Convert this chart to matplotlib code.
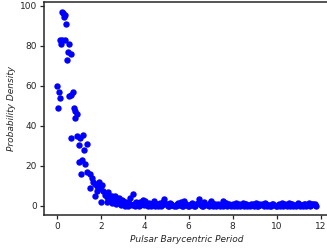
import matplotlib
matplotlib.use("Agg")
import matplotlib.pyplot as plt

# pulsar period (x) and estimated probability density (y)
head_x = [0.24, 0.30, 0.36, 0.33, 0.42, 0.15, 0.24, 0.39, 0.21, 0.54, 0.51, 0.64, 0.45,
          0.03, 0.12, 0.15, 0.06, 0.75, 0.66, 0.57, 0.79, 0.85, 0.94, 0.85,
          0.66, 0.91, 1.06, 1.21, 1.00, 1.36, 1.24, 1.00, 1.15, 1.30, 1.12, 1.39, 1.51,
          1.60, 1.51, 1.73, 1.91, 1.82, 1.97, 1.73, 2.00, 2.12, 2.21, 1.65, 1.85, 2.05]
head_y = [96.8, 96.2, 95.5, 94.5, 90.8, 82.8, 82.8, 82.8, 80.8, 81.1, 76.8, 75.8, 72.8,
          59.9, 57.0, 54.0, 49.0, 57.0, 55.3, 54.7, 49.0, 47.3, 46.0, 44.0,
          34.0, 35.0, 34.0, 35.6, 30.3, 31.0, 28.0, 21.9, 22.9, 20.9, 15.9, 16.9, 15.9,
          13.9, 8.9, 11.2, 12.2, 9.9, 8.9, 4.9, 2.2, 7.5, 5.5, 12.0, 7.5, 10.5]

tail_x = [2.25, 2.30, 2.35, 2.40, 2.45, 2.50, 2.55, 2.60, 2.65, 2.70, 2.75, 2.80, 2.85,
          2.90, 2.95, 3.00, 3.05, 3.10, 3.15, 3.20, 3.25, 3.30, 3.35, 3.45, 3.50, 3.55,
          3.60, 3.65, 3.70, 3.75, 3.80, 3.85, 3.90, 3.95, 4.00, 4.05,
          2.30, 2.50, 2.70, 2.90, 3.10, 3.40,
          4.10, 4.20, 4.30, 4.40, 4.50, 4.60, 4.70, 4.80, 4.88, 4.95, 5.05, 5.15,
          5.25, 5.35, 5.45, 5.55, 5.65, 5.72, 5.79, 5.88, 5.95, 6.05, 6.15, 6.25,
          6.35, 6.45, 6.55, 6.65, 6.75, 6.85, 6.95, 7.00, 7.10, 7.20, 7.30, 7.40,
          7.50, 7.57, 7.65, 7.75, 7.85, 7.95, 8.05, 8.15, 8.25, 8.35, 8.45, 8.55,
          8.65, 8.75, 8.85, 8.95, 9.05, 9.15, 9.25, 9.35, 9.45, 9.55, 9.65, 9.75,
          9.85, 9.95, 10.05, 10.15, 10.25, 10.35, 10.45, 10.55, 10.65, 10.75, 10.85,
          10.95, 11.05, 11.15, 11.25, 11.35, 11.45, 11.55, 11.65, 11.72, 11.80,
          4.15, 4.45, 4.75, 5.10, 5.40, 5.70, 6.00, 6.30, 6.60, 6.90, 7.25, 7.55,
          7.90, 8.20, 8.50, 8.80, 9.10, 9.40, 9.70, 10.00, 10.30, 10.60, 10.90,
          11.20, 11.50,
          3.00, 3.20, 3.60, 3.80, 4.02, 4.25, 4.55, 4.85, 5.00, 5.20, 5.50, 5.80,
          6.10, 6.40, 6.70, 7.05, 7.35, 7.70, 8.00, 8.30, 8.60, 8.90, 9.20, 9.50,
          9.80, 10.10, 10.40, 10.70, 11.00, 11.30, 11.60, 11.76]
tail_y = [6.0, 4.5, 7.0, 5.0, 3.5, 5.0, 4.0, 3.0, 5.0, 4.0, 2.5, 3.5, 4.0,
          2.0, 3.0, 2.5, 1.5, 1.0, 2.0, 0.5, 0.0, 1.5, 4.0, 5.9, 1.0, 0.0,
          2.0, 0.5, 1.5, 0.0, 2.0, 1.0, 3.0, 0.5, 2.5, 1.0,
          2.0, 1.5, 1.0, 0.5, 0.0, 0.5,
          0.5, 1.5, 0.0, 2.5, 1.0, 0.0, 1.5, 0.5, 3.4, 1.0, 0.0, 1.5,
          0.5, 0.0, 1.0, 0.5, 2.0, 0.0, 2.5, 1.0, 0.0, 0.5, 1.5, 0.0,
          1.0, 3.4, 0.5, 0.0, 1.0, 0.5, 1.5, 2.5, 0.0, 1.0, 0.5, 0.0,
          1.0, 2.5, 1.5, 0.0, 1.0, 0.5, 0.0, 1.5, 0.5, 0.0, 1.5, 1.0,
          0.0, 0.5, 1.0, 0.0, 1.5, 0.0, 0.5, 1.0, 1.5, 0.0, 0.5, 0.0,
          1.0, 0.0, 0.5, 0.0, 1.5, 0.5, 0.0, 1.5, 1.0, 0.0, 0.5,
          1.5, 0.0, 0.5, 1.0, 0.0, 1.5, 0.5, 1.0, 0.5, 0.0,
          0.0, 0.0, 0.0, 0.0, 0.0, 0.0, 0.0, 0.0, 0.0, 0.0, 0.0, 0.0,
          0.0, 0.0, 0.0, 0.0, 0.0, 0.0, 0.0, 0.0, 0.0, 0.0, 0.0,
          0.0, 0.0,
          1.0, 1.5, 1.0, 0.5, 1.5, 1.0, 1.0, 2.0, 1.0, 1.0, 1.5, 1.0,
          1.0, 1.5, 2.0, 1.5, 1.0, 1.5, 1.0, 1.0, 1.0, 1.0, 1.0, 1.0,
          1.0, 1.0, 1.0, 1.0, 1.0, 1.0, 1.0, 1.0]

x_ticks = [0, 2, 4, 6, 8, 10, 12]
y_ticks = [0, 20, 40, 60, 80, 100]

fig = plt.figure(figsize=(3.27, 2.49), dpi=100)
ax = fig.add_axes([0.1346, 0.1365, 0.873, 0.856])

ax.plot(head_x + tail_x, head_y + tail_y, 'o', color='blue', markersize=4.6,
        markeredgewidth=0)

ax.set_xlim(-0.58, 12.4)
ax.set_ylim(-4.5, 101.9)
ax.set_xticks(x_ticks)
ax.set_yticks(y_ticks)

dark = '#262626'
for s in ax.spines.values():
    s.set_color(dark)
    s.set_linewidth(1.1)
ax.tick_params(colors=dark, labelsize=6.5, length=3, width=0.9, pad=2)
ax.set_xlabel('Pulsar Barycentric Period', fontsize=6.5, style='italic', color=dark, labelpad=3)
ax.set_ylabel('Probability Density', fontsize=6.5, style='italic', color=dark, labelpad=3)

fig.savefig('out.png', dpi=100)
